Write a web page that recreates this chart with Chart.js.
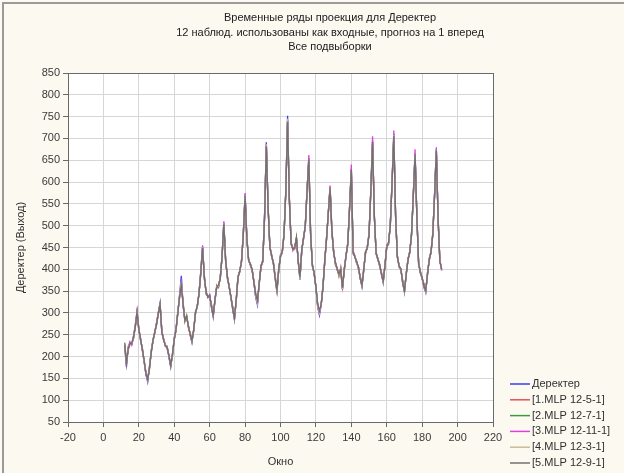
<!DOCTYPE html>
<html>
<head>
<meta charset="utf-8">
<script src="https://cdn.jsdelivr.net/npm/chart.js@4.4.0/dist/chart.umd.min.js"></script>
<style>
  html, body { margin: 0; padding: 0; background: #fbf9f0; }
  canvas { display: block; }
</style>
</head>
<body>
<canvas id="chart" width="624" height="473"></canvas>
<script>
// observation numbers (x axis, "Окно")
const caseNumbers = [
  12, 13, 14, 15, 16, 17, 18, 19, 20, 21, 22, 23,
  24, 25, 26, 27, 28, 29, 30, 31, 32, 33, 34, 35,
  36, 37, 38, 39, 40, 41, 42, 43, 44, 45, 46, 47,
  48, 49, 50, 51, 52, 53, 54, 55, 56, 57, 58, 59,
  60, 61, 62, 63, 64, 65, 66, 67, 68, 69, 70, 71,
  72, 73, 74, 75, 76, 77, 78, 79, 80, 81, 82, 83,
  84, 85, 86, 87, 88, 89, 90, 91, 92, 93, 94, 95,
  96, 97, 98, 99, 100, 101, 102, 103, 104, 105, 106, 107,
  108, 109, 110, 111, 112, 113, 114, 115, 116, 117, 118, 119,
  120, 121, 122, 123, 124, 125, 126, 127, 128, 129, 130, 131,
  132, 133, 134, 135, 136, 137, 138, 139, 140, 141, 142, 143,
  144, 145, 146, 147, 148, 149, 150, 151, 152, 153, 154, 155,
  156, 157, 158, 159, 160, 161, 162, 163, 164, 165, 166, 167,
  168, 169, 170, 171, 172, 173, 174, 175, 176, 177, 178, 179,
  180, 181, 182, 183, 184, 185, 186, 187, 188, 189, 190, 191
];

const derekter = [
  227, 176, 222, 232, 228, 245, 270, 303, 261, 240, 215, 190,
  160, 142, 175, 210, 238, 255, 275, 300, 323, 255, 240, 225,
  222, 200, 176, 205, 240, 262, 300, 340, 385, 318, 284, 291,
  270, 250, 232, 262, 300, 315, 345, 395, 452, 380, 347, 337,
  340, 315, 291, 330, 360, 362, 380, 430, 507, 420, 383, 360,
  337, 310, 284, 330, 383, 395, 420, 480, 572, 470, 422, 410,
  399, 370, 335, 318, 370, 406, 420, 520, 691, 540, 452, 430,
  415, 380, 347, 400, 430, 440, 480, 580, 752, 560, 461, 445,
  450, 470, 420, 376, 445, 470, 500, 580, 655, 480, 411, 390,
  360, 315, 295, 320, 360, 420, 470, 530, 585, 490, 440, 415,
  400, 388, 400, 353, 400, 430, 460, 540, 630, 438, 430, 415,
  405, 380, 360, 400, 438, 450, 480, 580, 695, 520, 438, 422,
  410, 390, 369, 410, 452, 460, 500, 600, 710, 520, 430, 406,
  400, 370, 347, 390, 422, 440, 480, 570, 665, 520, 415, 392,
  380, 360, 347, 390, 422, 440, 480, 570, 675, 514, 420, 399
];

const mlp1 = [
  232, 190, 215, 228, 232, 240, 268, 298, 266, 236, 220, 186,
  165, 150, 170, 214, 235, 258, 272, 296, 316, 262, 236, 228,
  218, 204, 182, 200, 244, 258, 304, 334, 362, 326, 280, 295,
  266, 254, 240, 258, 304, 312, 348, 390, 445, 388, 342, 340,
  336, 320, 298, 326, 364, 358, 384, 426, 500, 428, 378, 364,
  332, 316, 292, 326, 380, 398, 416, 484, 565, 476, 418, 414,
  395, 374, 345, 330, 366, 410, 416, 524, 680, 548, 448, 434,
  411, 386, 355, 396, 434, 436, 484, 576, 735, 566, 456, 450,
  446, 474, 416, 384, 440, 474, 496, 584, 648, 486, 406, 394,
  356, 322, 305, 318, 364, 416, 474, 526, 590, 484, 444, 410,
  404, 384, 404, 360, 396, 434, 456, 544, 624, 444, 426, 420,
  400, 386, 365, 396, 442, 446, 484, 576, 688, 526, 434, 426,
  406, 394, 375, 406, 456, 456, 504, 596, 700, 526, 426, 410,
  396, 376, 352, 386, 426, 436, 484, 566, 660, 526, 410, 396,
  376, 368, 352, 386, 426, 436, 484, 566, 668, 520, 416, 404
];

const mlp2 = [
  230, 185, 218, 230, 230, 243, 266, 300, 264, 238, 218, 188,
  163, 148, 172, 212, 236, 256, 276, 298, 318, 258, 238, 226,
  220, 202, 180, 203, 242, 260, 302, 336, 366, 322, 282, 293,
  268, 252, 236, 260, 302, 314, 346, 392, 448, 384, 345, 338,
  338, 318, 295, 328, 362, 360, 382, 428, 503, 424, 380, 362,
  335, 313, 288, 328, 382, 396, 418, 482, 568, 473, 420, 412,
  397, 372, 340, 326, 368, 408, 418, 522, 684, 544, 450, 432,
  413, 383, 351, 398, 432, 438, 482, 578, 740, 563, 458, 448,
  448, 472, 418, 380, 443, 472, 498, 582, 650, 483, 408, 392,
  358, 318, 302, 319, 362, 418, 472, 528, 588, 487, 442, 412,
  402, 386, 402, 357, 398, 432, 458, 542, 627, 441, 428, 417,
  402, 383, 363, 398, 440, 448, 482, 578, 690, 523, 436, 424,
  408, 392, 372, 408, 454, 458, 502, 598, 705, 523, 428, 408,
  398, 373, 350, 388, 424, 438, 482, 568, 662, 523, 412, 394,
  378, 364, 350, 388, 424, 438, 482, 568, 672, 517, 418, 401
];

const mlp3 = [
  225, 182, 220, 234, 226, 247, 272, 305, 258, 242, 213, 192,
  158, 146, 178, 208, 240, 253, 278, 302, 320, 252, 242, 223,
  224, 198, 178, 207, 238, 264, 298, 342, 370, 315, 286, 289,
  272, 248, 234, 264, 298, 317, 343, 398, 455, 377, 349, 335,
  342, 313, 293, 332, 358, 364, 378, 432, 510, 417, 385, 358,
  339, 308, 286, 332, 385, 393, 422, 478, 575, 467, 424, 408,
  401, 368, 338, 322, 372, 404, 422, 518, 688, 537, 454, 428,
  417, 378, 349, 402, 428, 442, 478, 582, 742, 557, 463, 443,
  452, 468, 422, 378, 447, 468, 502, 578, 662, 477, 413, 388,
  362, 313, 298, 322, 358, 422, 468, 532, 592, 493, 438, 417,
  398, 390, 398, 355, 402, 428, 462, 538, 640, 435, 432, 413,
  407, 378, 362, 402, 436, 452, 478, 584, 705, 517, 440, 420,
  412, 388, 371, 412, 450, 462, 498, 604, 718, 517, 432, 404,
  402, 368, 349, 392, 420, 442, 478, 574, 675, 517, 417, 390,
  382, 358, 349, 392, 420, 442, 478, 574, 680, 511, 422, 397
];

const mlp4 = [
  229, 180, 224, 230, 230, 244, 271, 301, 263, 239, 216, 189,
  162, 145, 176, 211, 237, 256, 274, 301, 320, 257, 239, 226,
  221, 201, 178, 204, 241, 261, 301, 338, 372, 320, 283, 292,
  269, 251, 234, 261, 301, 314, 346, 394, 450, 382, 346, 338,
  339, 316, 293, 329, 361, 361, 381, 429, 505, 422, 382, 361,
  336, 311, 286, 329, 384, 394, 421, 481, 570, 472, 421, 411,
  398, 371, 338, 322, 371, 405, 421, 521, 686, 542, 451, 431,
  414, 381, 350, 399, 431, 439, 481, 579, 745, 561, 460, 446,
  449, 469, 421, 378, 444, 469, 499, 581, 652, 482, 410, 391,
  359, 316, 300, 321, 361, 419, 469, 529, 587, 489, 441, 414,
  401, 387, 401, 355, 401, 429, 459, 541, 628, 439, 431, 414,
  404, 381, 362, 401, 437, 451, 481, 581, 692, 521, 437, 423,
  409, 391, 370, 409, 451, 461, 501, 601, 708, 521, 431, 407,
  399, 371, 348, 391, 423, 441, 481, 571, 664, 521, 416, 393,
  379, 361, 348, 391, 423, 441, 481, 571, 674, 515, 421, 400
];

const mlp5 = [
  228, 184, 219, 231, 229, 246, 269, 302, 262, 239, 216, 191,
  161, 147, 174, 209, 237, 256, 274, 299, 320, 256, 239, 224,
  221, 201, 179, 206, 239, 263, 299, 337, 364, 320, 283, 292,
  269, 251, 236, 261, 301, 316, 344, 393, 449, 381, 348, 336,
  341, 314, 294, 331, 359, 363, 379, 431, 504, 421, 384, 359,
  338, 309, 288, 331, 382, 396, 419, 479, 569, 471, 421, 411,
  400, 369, 342, 328, 369, 407, 419, 519, 682, 541, 451, 431,
  414, 379, 352, 401, 429, 441, 479, 579, 738, 559, 460, 446,
  449, 471, 419, 382, 444, 471, 499, 579, 652, 481, 410, 391,
  359, 320, 304, 321, 359, 421, 469, 529, 586, 491, 439, 416,
  401, 389, 399, 358, 399, 431, 459, 539, 629, 439, 429, 416,
  406, 379, 364, 399, 437, 451, 479, 579, 692, 521, 437, 423,
  411, 389, 373, 409, 451, 461, 499, 599, 706, 521, 429, 407,
  401, 369, 351, 389, 421, 441, 479, 569, 664, 521, 414, 393,
  381, 361, 351, 389, 421, 441, 479, 569, 673, 515, 419, 400
];

const seriesNames = ['Деректер', '[1.MLP 12-5-1]', '[2.MLP 12-7-1]', '[3.MLP 12-11-1]', '[4.MLP 12-3-1]', '[5.MLP 12-9-1]'];
const seriesColors = ['#3c3cf0', '#e8505a', '#3c9a3c', '#e040e0', '#c8bc96', '#707070'];
const seriesValues = [derekter, mlp1, mlp2, mlp3, mlp4, mlp5];

const titleLines = [
  'Временные ряды проекция для Деректер',
  '12 наблюд. использованы как входные, прогноз на 1 вперед',
  'Все подвыборки'
];

const FONT = "'Liberation Sans', Arial, sans-serif";
Chart.defaults.font.family = FONT;
Chart.defaults.font.size = 11;
Chart.defaults.color = '#3a3a3a';

// white plot area, frame round it, title and legend
const decor = {
  id: 'decor',
  beforeDraw(chart) {
    const { ctx, chartArea: a } = chart;
    ctx.save();
    ctx.fillStyle = '#ffffff';
    ctx.fillRect(a.left, a.top, a.right - a.left, a.bottom - a.top);
    // window frame
    ctx.strokeStyle = '#9a9a9a';
    ctx.lineWidth = 2;
    ctx.beginPath();
    ctx.moveTo(3, 473);
    ctx.lineTo(3, 3);
    ctx.lineTo(624, 3);
    ctx.stroke();
    ctx.restore();
  },
  afterDraw(chart) {
    const { ctx, chartArea: a } = chart;
    ctx.save();
    ctx.strokeStyle = '#6a6a6a';
    ctx.lineWidth = 1;
    ctx.strokeRect(Math.round(a.left) + 0.5, Math.round(a.top) + 0.5,
                   Math.round(a.right - a.left), Math.round(a.bottom - a.top));

    ctx.fillStyle = '#202020';
    ctx.font = '11px ' + FONT;
    ctx.textAlign = 'center';
    ctx.textBaseline = 'middle';
    titleLines.forEach((t, i) => ctx.fillText(t, 330, 18 + i * 14.5));

    ctx.textAlign = 'left';
    seriesNames.forEach((name, i) => {
      const y = 384 + i * 15.8;
      ctx.strokeStyle = seriesColors[i];
      ctx.lineWidth = 1.5;
      ctx.beginPath();
      ctx.moveTo(510, y);
      ctx.lineTo(530, y);
      ctx.stroke();
      ctx.fillStyle = '#303030';
      ctx.fillText(name, 532, y);
    });
    ctx.restore();
  }
};

const datasets = seriesValues.map((vals, i) => ({
  label: seriesNames[i],
  data: caseNumbers.map((c, j) => ({ x: c, y: vals[j] })),
  borderColor: seriesColors[i],
  backgroundColor: seriesColors[i],
  borderWidth: 1.3,
  pointRadius: 0,
  tension: 0,
  order: seriesValues.length - 1 - i
}));

new Chart(document.getElementById('chart'), {
  type: 'line',
  data: { datasets: datasets },
  options: {
    responsive: false,
    animation: false,
    devicePixelRatio: 1,
    layout: { padding: { left: 0, right: 131, top: 73, bottom: 0 } },
    plugins: {
      legend: { display: false },
      title: { display: false },
      tooltip: { enabled: false }
    },
    scales: {
      x: {
        type: 'linear',
        min: -20,
        max: 220,
        ticks: { stepSize: 20, padding: 4, color: '#3a3a3a', maxRotation: 0 },
        grid: { color: '#d6d6d6', tickColor: '#6a6a6a', tickLength: 5 },
        border: { display: false },
        title: { display: true, text: 'Окно', color: '#303030', padding: { top: 0, bottom: 4 } },
        afterFit(scale) { scale.height = 51; }
      },
      y: {
        min: 50,
        max: 850,
        ticks: { stepSize: 50, padding: 3, color: '#3a3a3a' },
        grid: { color: '#d6d6d6', tickColor: '#6a6a6a', tickLength: 5 },
        border: { display: false },
        title: { display: true, text: 'Деректер (Выход)', color: '#303030', padding: { top: 14, bottom: 0 } },
        afterFit(scale) { scale.width = 68; }
      }
    }
  },
  plugins: [decor]
});
</script>
</body>
</html>
